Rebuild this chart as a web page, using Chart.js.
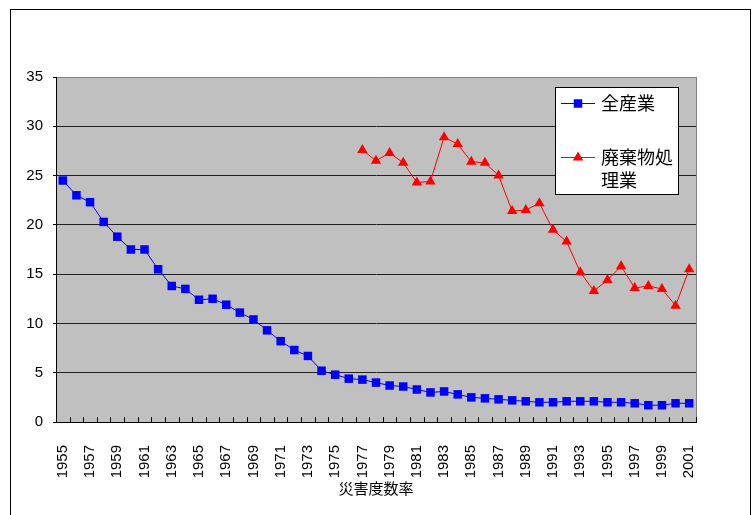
<!DOCTYPE html>
<html>
<head>
<meta charset="utf-8">
<script src="https://cdn.jsdelivr.net/npm/chart.js@4/dist/chart.umd.min.js"></script>
<style>
  body { margin: 0; background: #fff; }
  #wrap { width: 753px; height: 515px; }
</style>
</head>
<body>
<div id="wrap"><canvas id="chart" width="753" height="515"></canvas></div>
<script>
// years 1955 - 2001
const years = [];
for (let y = 1955; y <= 2001; y++) years.push(String(y));

// 全産業
const allIndustry = [
  24.5, 23.0, 22.3, 20.3, 18.8, 17.5, 17.5, 15.5, 13.8, 13.5,
  12.4, 12.5, 11.9, 11.1, 10.4, 9.3, 8.2, 7.3, 6.7, 5.2,
  4.8, 4.4, 4.3, 4.0, 3.7, 3.6, 3.3, 3.0, 3.1, 2.8,
  2.5, 2.4, 2.3, 2.2, 2.1, 2.0, 2.0, 2.1, 2.1, 2.1,
  2.0, 2.0, 1.9, 1.7, 1.7, 1.9, 1.9
];

// 廃棄物処理業 (from 1977)
const wasteIndustry = [
  null, null, null, null, null, null, null, null, null, null,
  null, null, null, null, null, null, null, null, null, null,
  null, null,
  27.6, 26.5, 27.3, 26.3, 24.3, 24.4, 28.9, 28.2, 26.4, 26.3,
  25.0, 21.4, 21.5, 22.2, 19.5, 18.3, 15.2, 13.3, 14.4, 15.8,
  13.6, 13.8, 13.5, 11.8, 15.5
];

const seriesNames = ['全産業', '廃棄物処理業'];
const legendLines = [['全産業'], ['廃棄物処', '理業']];
const xTitle = '災害度数率';
const yTicks = [0, 5, 10, 15, 20, 25, 30, 35];

const numFont = { family: '"Liberation Sans", Arial, sans-serif', size: 15 };
const jpFamily = '"Noto Sans CJK JP", sans-serif';

// background, outer frame and plot fill
const framePlugin = {
  id: 'frame',
  beforeDraw(chart) {
    const ctx = chart.ctx;
    const a = chart.chartArea;
    ctx.save();
    ctx.fillStyle = '#fff';
    ctx.fillRect(0, 0, chart.width, chart.height);
    ctx.strokeStyle = '#000';
    ctx.lineWidth = 1;
    ctx.strokeRect(10.5, 9.5, 740, 530);
    ctx.fillStyle = '#c0c0c0';
    ctx.fillRect(a.left, a.top, a.right - a.left, a.bottom - a.top);
    ctx.restore();
  },
  afterDraw(chart) {
    const ctx = chart.ctx;
    const a = chart.chartArea;
    const xs = chart.scales.x;
    ctx.save();
    // right border of plot
    ctx.strokeStyle = '#808080';
    ctx.lineWidth = 1;
    ctx.beginPath();
    ctx.moveTo(Math.round(a.right) + 0.5, a.top);
    ctx.lineTo(Math.round(a.right) + 0.5, a.bottom);
    ctx.stroke();
    // inside tick marks at category boundaries
    ctx.strokeStyle = '#000';
    const half = (xs.getPixelForValue(1) - xs.getPixelForValue(0)) / 2;
    ctx.beginPath();
    for (let i = 0; i < years.length; i++) {
      const x = Math.round(xs.getPixelForValue(i) + half) + 0.5;
      ctx.moveTo(x, a.bottom);
      ctx.lineTo(x, a.bottom - 5);
    }
    ctx.stroke();
    ctx.restore();
  }
};

function drawMarker(ctx, style, x, y, color) {
  ctx.fillStyle = color;
  ctx.beginPath();
  if (style === 'rect') {
    ctx.rect(x - 4.25, y - 4.25, 8.5, 8.5);
  } else {
    const r = 6;
    ctx.moveTo(x, y - r);
    ctx.lineTo(x + r * 0.866, y + r / 2);
    ctx.lineTo(x - r * 0.866, y + r / 2);
    ctx.closePath();
  }
  ctx.fill();
}

const legendPlugin = {
  id: 'boxLegend',
  afterDraw(chart) {
    const ctx = chart.ctx;
    ctx.save();
    ctx.fillStyle = '#fff';
    ctx.fillRect(555, 87, 123, 107);
    ctx.strokeStyle = '#000';
    ctx.lineWidth = 1;
    ctx.strokeRect(555.5, 87.5, 123, 107);
    const rows = [103, 157];
    chart.data.datasets.forEach((ds, i) => {
      const y = rows[i];
      ctx.strokeStyle = ds.borderColor;
      ctx.lineWidth = 1;
      ctx.beginPath();
      ctx.moveTo(561, y + 0.5);
      ctx.lineTo(595, y + 0.5);
      ctx.stroke();
      drawMarker(ctx, ds.pointStyle, 578, y + 0.5, ds.backgroundColor);
      ctx.fillStyle = '#000';
      ctx.font = '18px ' + jpFamily;
      ctx.textBaseline = 'middle';
      ctx.textAlign = 'left';
      legendLines[i].forEach((t, k) => ctx.fillText(t, 601, y + k * 23));
    });
    ctx.restore();
  }
};

new Chart(document.getElementById('chart'), {
  type: 'line',
  data: {
    labels: years,
    datasets: [
      {
        label: seriesNames[0],
        data: allIndustry,
        borderColor: '#0000ff',
        backgroundColor: '#0000ff',
        borderWidth: 1,
        pointStyle: 'rect',
        pointRadius: 6,
        pointBorderWidth: 0,
        tension: 0
      },
      {
        label: seriesNames[1],
        data: wasteIndustry,
        borderColor: '#ff0000',
        backgroundColor: '#ff0000',
        borderWidth: 1,
        pointStyle: 'triangle',
        pointRadius: 6,
        pointBorderWidth: 0,
        tension: 0,
        spanGaps: false
      }
    ]
  },
  options: {
    responsive: false,
    animation: false,
    layout: { padding: { top: 77, right: 57, left: 0, bottom: 0 } },
    plugins: {
      legend: { display: false },
      tooltip: { enabled: false }
    },
    scales: {
      x: {
        offset: true,
        grid: { display: false },
        border: { display: true, color: '#000', width: 1 },
        ticks: {
          autoSkip: false,
          minRotation: 90,
          maxRotation: 90,
          padding: 15,
          color: '#000',
          font: numFont,
          callback: (v, i) => (i % 2 === 0 ? years[i] : '')
        },
        title: {
          display: true,
          text: xTitle,
          color: '#000',
          font: { family: jpFamily, size: 15 },
          padding: { top: 0, bottom: 18 }
        },
        afterFit: s => { s.height = 93; }
      },
      y: {
        min: 0,
        max: 35,
        afterBuildTicks: s => { s.ticks = yTicks.map(v => ({ value: v })); },
        grid: {
          color: c => (c.tick && c.tick.value === 35 ? '#808080' : '#202020'),
          tickColor: '#000',
          tickLength: 3
        },
        border: { display: true, color: '#000', width: 1 },
        ticks: {
          padding: 10,
          color: '#000',
          font: numFont
        },
        afterFit: s => { s.width = 56; }
      }
    }
  },
  plugins: [framePlugin, legendPlugin]
});
</script>
</body>
</html>
